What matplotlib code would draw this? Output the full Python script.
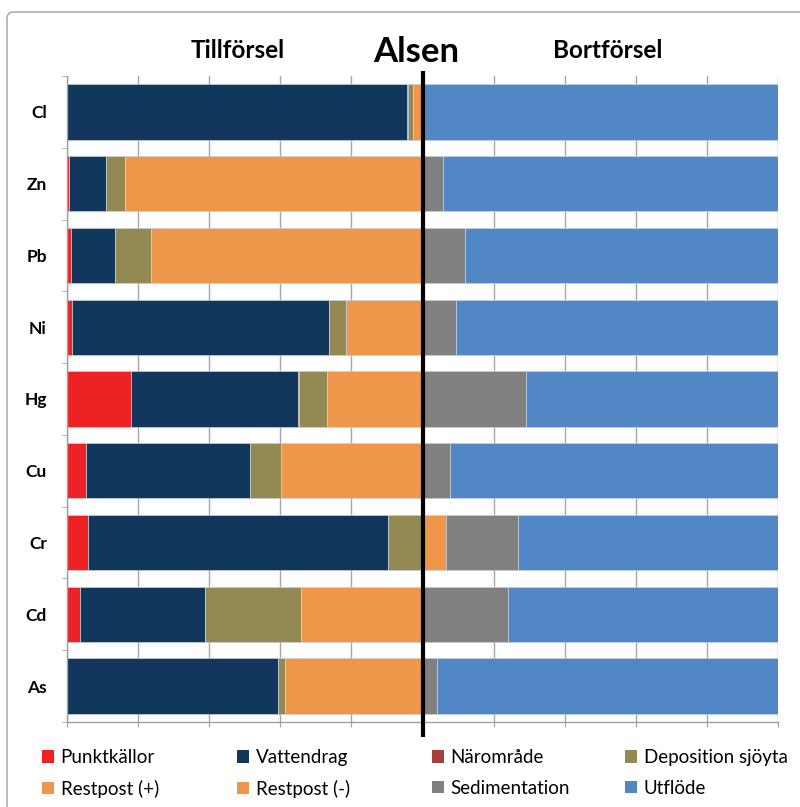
import matplotlib
matplotlib.use("Agg")
import matplotlib.pyplot as plt
from matplotlib.patches import Patch, FancyBboxPatch
from matplotlib.ticker import MultipleLocator, FixedLocator
import numpy as np

plt.rcParams['font.family'] = ['Lato', 'DejaVu Sans']

categories = ["Cl", "Zn", "Pb", "Ni", "Hg", "Cu", "Cr", "Cd", "As"]

# Tillförsel (input, %), left half
punktkallor = [0.1, 0.6, 1.0, 1.5, 17.9, 5.4, 5.8, 3.7, 0.1]
vattendrag  = [95.4, 10.4, 12.5, 72.3, 47.2, 46.0, 84.4, 35.2, 59.2]
naromrade   = [0.3, 0.0, 0.0, 0.0, 0.3, 0.1, 0.1, 0.0, 0.0]
deposition  = [1.5, 5.2, 10.1, 4.8, 7.6, 8.8, 9.7, 27.0, 1.9]
restpost_p  = [2.7, 83.8, 76.4, 21.4, 27.0, 39.7, 0.0, 34.1, 38.8]
# Bortförsel (output, %), right half
restpost_m  = [0.0, 0.0, 0.0, 0.0, 0.0, 0.0, 6.5, 0.0, 0.0]
sedimentation = [0.3, 5.7, 11.9, 9.5, 29.2, 7.6, 20.5, 24.1, 4.0]
utflode     = [99.7, 94.3, 88.1, 90.5, 70.8, 92.4, 73.0, 75.9, 96.0]

series_names = ["Punktkällor", "Vattendrag", "Närområde", "Deposition sjöyta",
                "Restpost (+)", "Restpost (-)", "Sedimentation", "Utflöde"]
left_series = [punktkallor, vattendrag, naromrade, deposition, restpost_p]
right_series = [restpost_m, sedimentation, utflode]
colors = ["#EE2224", "#12375C", "#A3403E", "#938953",
          "#EE964A", "#EE964A", "#808080", "#5287C6"]

W, H = 800, 807
fig = plt.figure(figsize=(W / 100, H / 100), dpi=100)
ax = fig.add_axes([67 / W, 1 - 722 / H, 711 / W, 646 / H])

y = np.arange(len(categories))
bh = 0.77
left = np.zeros(len(categories))
for vals, c in zip(left_series, colors[:5]):
    v = np.array(vals)
    ax.barh(y, v, left=left, height=bh, color=c, edgecolor='#C9D0DA',
            linewidth=0.5, zorder=2)
    left = left + v
left = np.full(len(categories), 100.0)
for vals, c in zip(right_series, colors[5:]):
    v = np.array(vals)
    ax.barh(y, v, left=left, height=bh, color=c, edgecolor='#C9D0DA',
            linewidth=0.5, zorder=2)
    left = left + v

ax.set_xlim(0, 200)
ax.set_ylim(len(categories) - 0.5, -0.5)

ax.xaxis.set_major_locator(MultipleLocator(20))
ax.tick_params(axis='x', which='major', direction='out', length=3.8,
               color='#A0A0A0', labelbottom=False)
ax.grid(axis='x', color='#A6A6A6', linewidth=1.0, zorder=0)
ax.set_axisbelow(True)

ax.set_yticks(y)
ax.set_yticklabels(categories, fontsize=12.5, fontweight='bold')
ax.tick_params(axis='y', which='major', length=0, pad=14.5)
ax.yaxis.set_minor_locator(FixedLocator(np.arange(-0.5, len(categories) + 0.5, 1)))
ax.tick_params(axis='y', which='minor', direction='out', length=3.8, color='#A0A0A0')

for s in ['top', 'right']:
    ax.spines[s].set_visible(False)
for s in ['left', 'bottom']:
    ax.spines[s].set_color('#A0A0A0')
    ax.spines[s].set_linewidth(1.0)

# central divider
trans = ax.get_xaxis_transform()
ax.plot([100, 100], [-15 / 646, 1 + 5 / 646], color='black', linewidth=3.0,
        transform=trans, clip_on=False, zorder=5, solid_capstyle='butt')

# titles
fig.text(238 / W, 1 - 58 / H, "Tillförsel", ha='center', va='baseline',
         fontsize=17.5, fontweight='bold')
fig.text(416 / W, 1 - 61.5 / H, "Alsen", ha='center', va='baseline',
         fontsize=25, fontweight='bold')
fig.text(608 / W, 1 - 58 / H, "Bortförsel", ha='center', va='baseline',
         fontsize=17.5, fontweight='bold')

# legend: four columns with equal spacing
col_x = [42, 237, 432, 625]
for j in range(4):
    hs = [Patch(facecolor=colors[j], edgecolor='none'),
          Patch(facecolor=colors[j + 4], edgecolor='none')]
    fig.legend(handles=hs, labels=[series_names[j], series_names[j + 4]],
               loc='upper left', bbox_to_anchor=(col_x[j] / W, 1 - 749 / H),
               frameon=False, fontsize=13.5, handlelength=0.65, handleheight=0.65,
               handletextpad=0.35, labelspacing=0.72, borderpad=0,
               borderaxespad=0)

# chart area border
fig.patches.append(FancyBboxPatch((7 / W, -0.05), 1.05, (1 - 12 / H) + 0.05,
                                  boxstyle="round,pad=0,rounding_size=0.008",
                                  transform=fig.transFigure, facecolor='none',
                                  edgecolor='#A0A0A0', linewidth=1.0))

fig.savefig("out.png", dpi=100)
